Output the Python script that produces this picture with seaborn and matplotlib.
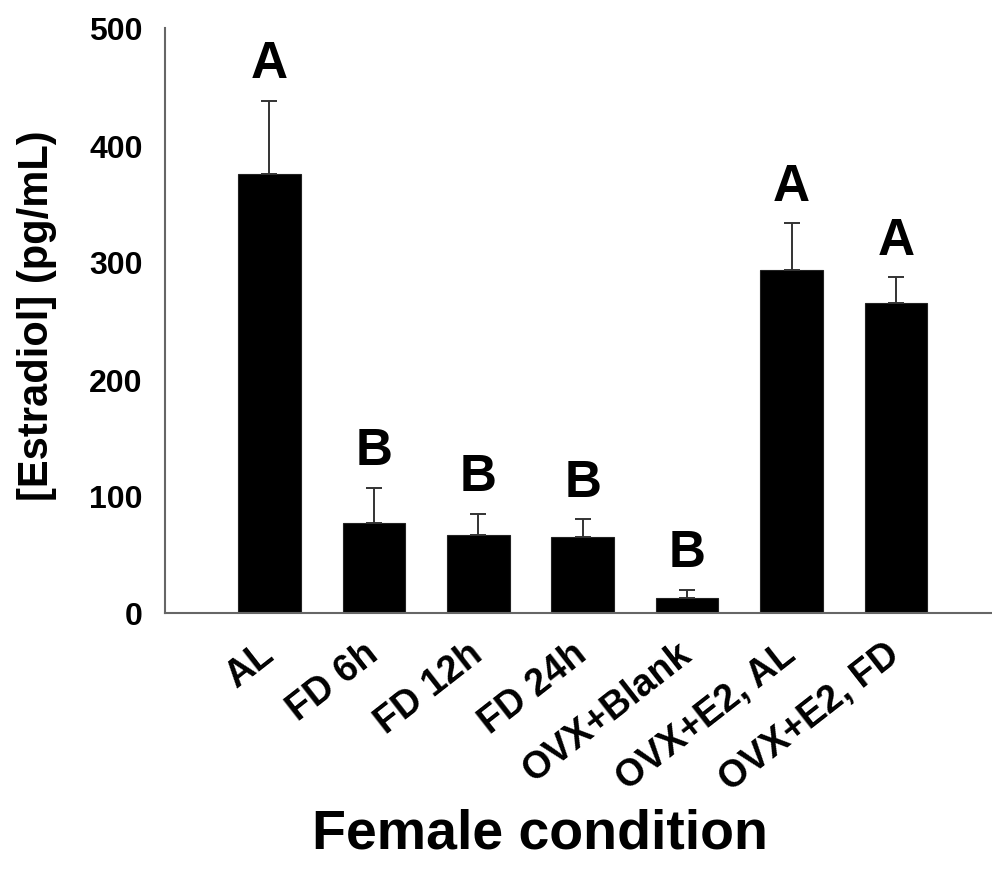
import numpy as np
import pandas as pd
import matplotlib
matplotlib.use('Agg')
import matplotlib.pyplot as plt
import seaborn as sns

# data
conditions = ['AL', 'FD 6h', 'FD 12h', 'FD 24h', 'OVX+Blank', 'OVX+E2, AL', 'OVX+E2, FD']
means = [375, 77, 67, 65, 13, 293, 265]
sems = [63, 30, 18, 15, 7, 40, 22]
letters = ['A', 'B', 'B', 'B', 'B', 'A', 'A']

df = pd.DataFrame({'cond': conditions, 'mean': means, 'sem': sems})

sns.set_style('white')
plt.rcParams['font.family'] = ['Liberation Sans', 'DejaVu Sans']
plt.rcParams['font.weight'] = 'bold'
plt.rcParams['text.color'] = 'black'
plt.rcParams['axes.labelcolor'] = 'black'
plt.rcParams['xtick.color'] = 'black'
plt.rcParams['ytick.color'] = 'black'

fig = plt.figure(figsize=(9.92, 8.70), dpi=100)
ax = fig.add_axes([165/992, 1-614/870, 1-165/992, (614-29)/870])

sns.barplot(data=df, x='cond', y='mean', color='black', width=0.6,
            saturation=1, edgecolor='#222222', linewidth=0.8, ax=ax)
# only the upper half of the error bar
ax.errorbar(range(len(df)), df['mean'], yerr=[np.zeros(len(df)), df['sem']],
            fmt='none', ecolor='#333333', elinewidth=1.4, capsize=6, capthick=1.4)

# significance letters
for i, (m, s, l) in enumerate(zip(means, sems, letters)):
    ax.text(i, m + s + 20, l, ha='center', va='baseline', fontsize=37, fontweight='bold')

ax.set_ylim(0, 500)
ax.set_xlim(-1, 6.92)
ax.set_yticks([0, 100, 200, 300, 400, 500])

for sp in ['top', 'right']:
    ax.spines[sp].set_visible(False)
for sp in ['left', 'bottom']:
    ax.spines[sp].set_color('#666666')
    ax.spines[sp].set_linewidth(1.5)

ax.tick_params(axis='y', direction='in', length=7, width=1.2, color='#666666',
               labelcolor='black', pad=16, labelsize=23)
ax.tick_params(axis='x', length=0, pad=26, labelsize=27, labelcolor='black')
plt.setp(ax.get_xticklabels(), rotation=38, ha='right', va='center',
         rotation_mode='anchor', fontweight='bold')
plt.setp(ax.get_yticklabels(), fontweight='bold')

ax.set_ylabel('[Estradiol] (pg/mL)', fontsize=30, fontweight='bold')
ax.yaxis.set_label_coords(-0.131, 0.51)
ax.set_xlabel('Female condition', fontsize=40, fontweight='bold', va='top')
ax.xaxis.set_label_coords(0.453, -0.332)

fig.savefig('out.png', dpi=100)
